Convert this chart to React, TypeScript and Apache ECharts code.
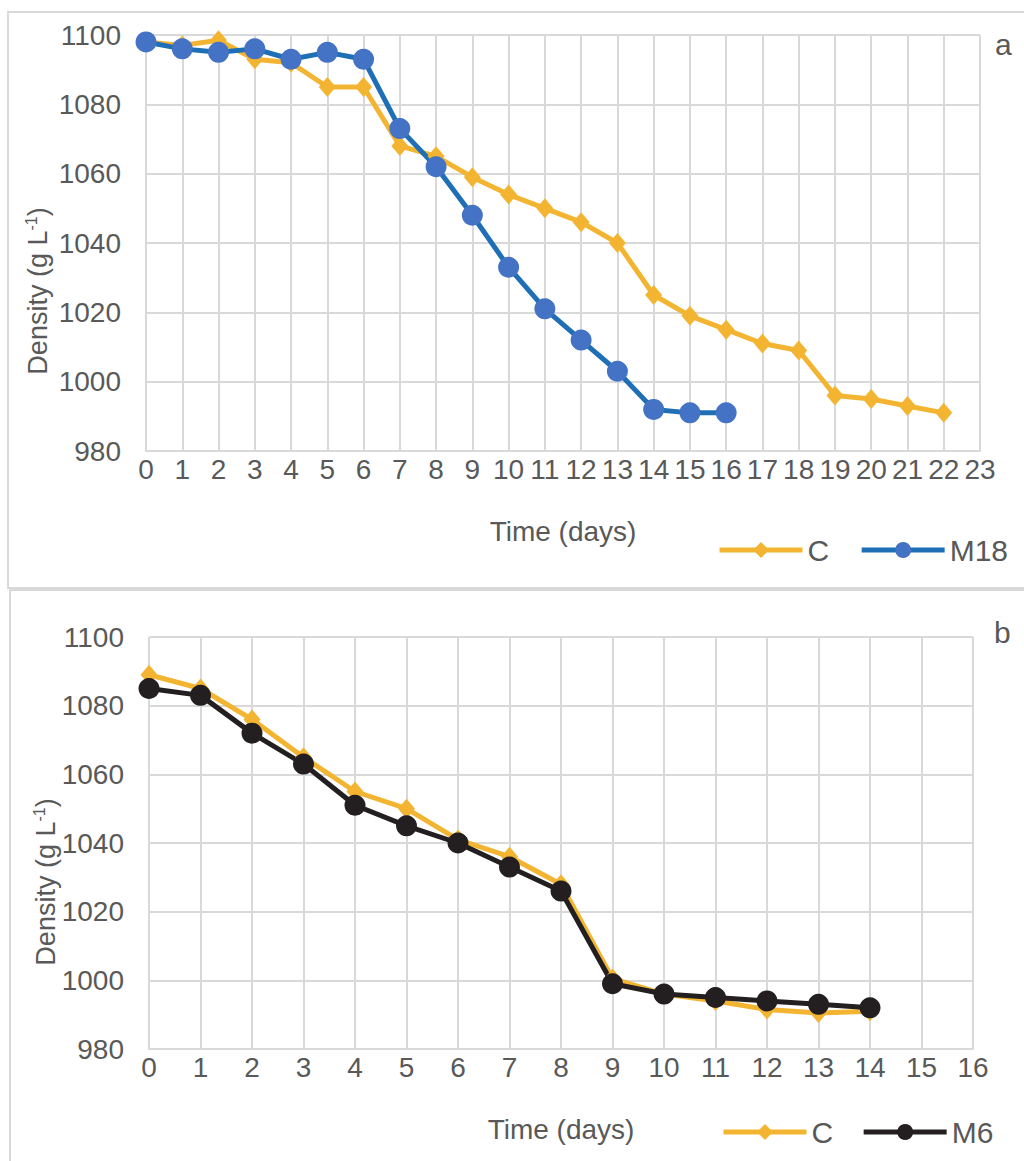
import React, { useEffect, useRef } from "react";
import * as echarts from "echarts";

const daysA = [0, 1, 2, 3, 4, 5, 6, 7, 8, 9, 10, 11, 12, 13, 14, 15, 16, 17, 18, 19, 20, 21, 22];
const cA = [1098, 1097, 1098.5, 1093, 1092, 1085, 1085, 1068, 1065, 1059, 1054, 1050, 1046, 1040, 1025, 1019, 1015, 1011, 1009, 996, 995, 993, 991];
const m18 = [1098, 1096, 1095, 1096, 1093, 1095, 1093, 1073, 1062, 1048, 1033, 1021, 1012, 1003, 992, 991, 991];

const daysB = [0, 1, 2, 3, 4, 5, 6, 7, 8, 9, 10, 11, 12, 13, 14];
const cB = [1089, 1085, 1076, 1065, 1055, 1050, 1041, 1036, 1028, 1000.5, 996, 994, 991.5, 990.5, 991];
const m6 = [1085, 1083, 1072, 1063, 1051, 1045, 1040, 1033, 1026, 999, 996, 995, 994, 993, 992];

const yTicks = [980, 1000, 1020, 1040, 1060, 1080, 1100];

const YELLOW = "#F3B531";
const BLUE_LINE = "#1F6FB6";
const BLUE_MARK = "#4472C4";
const BLACK = "#231F20";
const GRID = "#D9D9D9";
const TEXT = "#595959";
const FONT = "'Liberation Sans', Arial, sans-serif";

const pairs = (xs: number[], ys: number[]) => ys.map((y, i) => [xs[i], y]);

export default function App() {
  const ref = useRef<HTMLDivElement>(null);
  useEffect(() => {
    document.body.style.margin = "0";
    const chart = echarts.init(ref.current!, null, { renderer: "svg" });
    const xAxisBase = (max: number, gridIndex: number) => ({
      type: "value",
      gridIndex,
      min: 0,
      max,
      interval: 1,
      name: "Time (days)",
      nameLocation: "middle",
      nameGap: 66,
      nameTextStyle: { fontFamily: FONT, fontSize: 28, color: TEXT },
      axisLine: { show: true, lineStyle: { color: GRID, width: 2 } },
      axisTick: { show: false },
      axisLabel: { fontFamily: FONT, fontSize: 28, color: TEXT, margin: 4 },
      splitLine: { show: true, lineStyle: { color: GRID, width: 2 } },
    });
    const yAxisBase = (gridIndex: number) => ({
      type: "value",
      gridIndex,
      min: yTicks[0],
      max: yTicks[yTicks.length - 1],
      interval: 20,
      axisLine: { show: false },
      axisTick: { show: false },
      axisLabel: {
        fontFamily: FONT,
        fontSize: 28,
        color: TEXT,
        margin: 25,
        formatter: (v: number) => String(v),
      },
      splitLine: { show: true, lineStyle: { color: GRID, width: 2 } },
    });
    const yName = (x: number, y: number) => ({
      type: "text",
      x,
      y,
      rotation: Math.PI / 2,
      style: {
        text: "{m|Density (g L}{s|-1}{m|)}",
        align: "center",
        verticalAlign: "middle",
        rich: {
          m: { fontFamily: FONT, fontSize: 27, fill: TEXT, lineHeight: 30 },
          s: { fontFamily: FONT, fontSize: 16, fill: TEXT, verticalAlign: "top", lineHeight: 30, padding: [0, 0, 8, 0] },
        },
      },
    });
    const legendBase = {
      itemWidth: 83,
      itemHeight: 20,
      textStyle: { fontFamily: FONT, fontSize: 30, color: TEXT },
      lineStyle: { width: 5 },
    };
    chart.setOption({
      animation: false,
      grid: [
        { left: 146, top: 35, width: 834, height: 416 },
        { left: 149, top: 637, width: 824, height: 412 },
      ],
      xAxis: [xAxisBase(23, 0), xAxisBase(16, 1)],
      yAxis: [yAxisBase(0), yAxisBase(1)],
      legend: [
        { ...legendBase, data: ["C", "M18"], left: 712, top: 530, itemGap: 30 },
        { ...legendBase, data: ["C", "M6"], left: 716, top: 1112, itemGap: 28 },
      ],
      graphic: [
        { type: "rect", shape: { x: 8, y: 12, width: 1040, height: 576 }, style: { fill: "none", stroke: GRID, lineWidth: 2 }, silent: true, z: -10 },
        { type: "rect", shape: { x: 10, y: 590, width: 1040, height: 600 }, style: { fill: "none", stroke: GRID, lineWidth: 2 }, silent: true, z: -10 },
        yName(38, 291),
        yName(46, 882),
        { type: "text", left: 995, top: 29, style: { text: "a", fontFamily: FONT, fontSize: 30, fill: TEXT } },
        { type: "text", left: 994, top: 617, style: { text: "b", fontFamily: FONT, fontSize: 30, fill: TEXT } },
      ],
      series: [
        {
          name: "C",
          type: "line",
          xAxisIndex: 0,
          yAxisIndex: 0,
          data: pairs(daysA, cA),
          symbol: "diamond",
          symbolSize: [17, 20],
          itemStyle: { color: YELLOW },
          lineStyle: { color: YELLOW, width: 5 },
        },
        {
          name: "M18",
          type: "line",
          xAxisIndex: 0,
          yAxisIndex: 0,
          data: pairs(daysA, m18),
          symbol: "circle",
          symbolSize: 21,
          itemStyle: { color: BLUE_MARK },
          lineStyle: { color: BLUE_LINE, width: 5 },
        },
        {
          name: "C",
          type: "line",
          xAxisIndex: 1,
          yAxisIndex: 1,
          data: pairs(daysB, cB),
          symbol: "diamond",
          symbolSize: [17, 20],
          itemStyle: { color: YELLOW },
          lineStyle: { color: YELLOW, width: 5 },
        },
        {
          name: "M6",
          type: "line",
          xAxisIndex: 1,
          yAxisIndex: 1,
          data: pairs(daysB, m6),
          symbol: "circle",
          symbolSize: 21,
          itemStyle: { color: BLACK },
          lineStyle: { color: BLACK, width: 5 },
        },
      ],
    });
    return () => chart.dispose();
  }, []);
  return <div ref={ref} style={{ position: "absolute", left: 0, top: 0, width: 1024, height: 1161, background: "#fff" }} />;
}
